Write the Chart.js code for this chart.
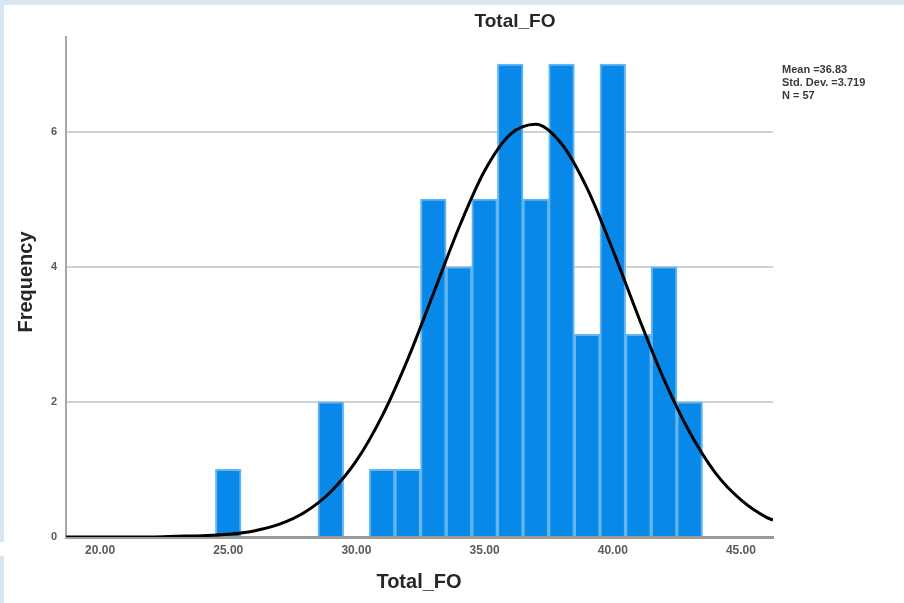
<!DOCTYPE html>
<html>
<head>
<meta charset="utf-8">
<script src="https://cdn.jsdelivr.net/npm/chart.js@4/dist/chart.umd.min.js"></script>
<style>
  html, body { margin: 0; padding: 0; background: #ffffff; }
  #wrap { position: relative; width: 904px; height: 603px; overflow: hidden; }
  #c { position: absolute; left: 0; top: 0; }
  .frame { position: absolute; background: #dae6ef; }
</style>
</head>
<body>
<div id="wrap">
  <canvas id="c" width="904" height="603"></canvas>
  <div class="frame" style="left:0;top:0;width:904px;height:5px;"></div>
  <div class="frame" style="left:0;top:0;width:4px;height:542px;"></div>
  <div class="frame" style="left:0;top:556px;width:4px;height:47px;"></div>
</div>
<script>
// ---- data ----
const chartTitle = "Total_FO";
const xAxisTitle = "Total_FO";
const yAxisTitle = "Frequency";
const binCenters = [25, 29, 31, 32, 33, 34, 35, 36, 37, 38, 39, 40, 41, 42, 43];
const frequencies = [1, 2, 1, 1, 5, 4, 5, 7, 5, 7, 3, 7, 3, 4, 2];
const curveX = [18.67, 19, 20, 21, 22, 23, 24, 25, 26, 27, 28, 29, 30, 31, 32, 33, 34, 35, 36, 37, 38, 39, 40, 41, 42, 43, 44, 45, 46, 46.25];
const curveY = [0, 0, 0, 0, 0, 0.01, 0.02, 0.04, 0.09, 0.19, 0.37, 0.67, 1.13, 1.79, 2.63, 3.6, 4.58, 5.42, 5.96, 6.11, 5.82, 5.16, 4.25, 3.26, 2.33, 1.55, 0.95, 0.55, 0.29, 0.25];
const xTicks = [20, 25, 30, 35, 40, 45];
const yTicks = [0, 2, 4, 6];
const statsLines = ["Mean =36.83", "Std. Dev. =3.719", "N = 57"];

const FONT = "'Liberation Sans', Arial, sans-serif";

const textPlugin = {
  id: 'texts',
  afterDraw(chart) {
    const ctx = chart.ctx;
    const a = chart.chartArea;
    ctx.save();
    ctx.fillStyle = '#262626';
    ctx.textAlign = 'center';
    ctx.textBaseline = 'middle';
    ctx.font = "bold 19px " + FONT;
    ctx.fillText(chartTitle, 515, 22);
    ctx.font = "bold 20px " + FONT;
    ctx.fillText(xAxisTitle, 419, 582);
    ctx.save();
    ctx.translate(26, 282);
    ctx.rotate(-Math.PI / 2);
    ctx.fillText(yAxisTitle, 0, 0);
    ctx.restore();
    ctx.textAlign = 'left';
    ctx.font = "bold 11px " + FONT;
    ctx.fillStyle = '#3a3a3a';
    statsLines.forEach((s, i) => ctx.fillText(s, a.right + 9, 70 + i * 13));
    ctx.restore();
  }
};

new Chart(document.getElementById('c'), {
  type: 'bar',
  data: {
    datasets: [
      {
        type: 'line',
        data: curveX.map((x, i) => ({ x: x, y: curveY[i] })),
        borderColor: '#000000',
        borderWidth: 3,
        pointRadius: 0,
        fill: false,
        cubicInterpolationMode: 'monotone',
        order: 0
      },
      {
        type: 'bar',
        data: binCenters.map((x, i) => ({ x: x, y: frequencies[i] })),
        backgroundColor: '#0889ea',
        borderColor: '#62b4f2',
        borderWidth: { left: 2, right: 2, top: 2, bottom: 0 },
        borderSkipped: 'bottom',
        barPercentage: 1,
        categoryPercentage: 1,
        order: 1
      }
    ]
  },
  options: {
    responsive: false,
    animation: false,
    devicePixelRatio: 1,
    layout: { padding: { top: 37, right: 131, left: 0, bottom: 0 } },
    plugins: { legend: { display: false }, tooltip: { enabled: false }, title: { display: false } },
    scales: {
      x: {
        type: 'linear',
        offset: false,
        min: 18.67,
        max: 46.25,
        grid: { display: false, drawTicks: false, offset: false },
        border: { display: true, color: '#9a9a9a', width: 3 },
        afterBuildTicks: s => { s.ticks = xTicks.map(v => ({ value: v })); },
        afterFit: s => { s.height = 66; },
        ticks: {
          padding: 6,
          color: '#5a5a5a',
          font: { family: FONT, size: 12, weight: 'bold' },
          maxRotation: 0,
          callback: v => Number(v).toFixed(2)
        }
      },
      y: {
        min: 0,
        max: 7.4,
        grid: { color: '#d2d2d2', lineWidth: 2, drawTicks: false },
        border: { display: true, color: '#a8a8a8', width: 2 },
        afterBuildTicks: s => { s.ticks = yTicks.map(v => ({ value: v })); },
        afterFit: s => { s.width = 66; },
        ticks: {
          padding: 9,
          color: '#5a5a5a',
          font: { family: FONT, size: 11, weight: 'bold' },
          callback: v => String(v)
        }
      }
    }
  },
  plugins: [textPlugin]
});
</script>
</body>
</html>
